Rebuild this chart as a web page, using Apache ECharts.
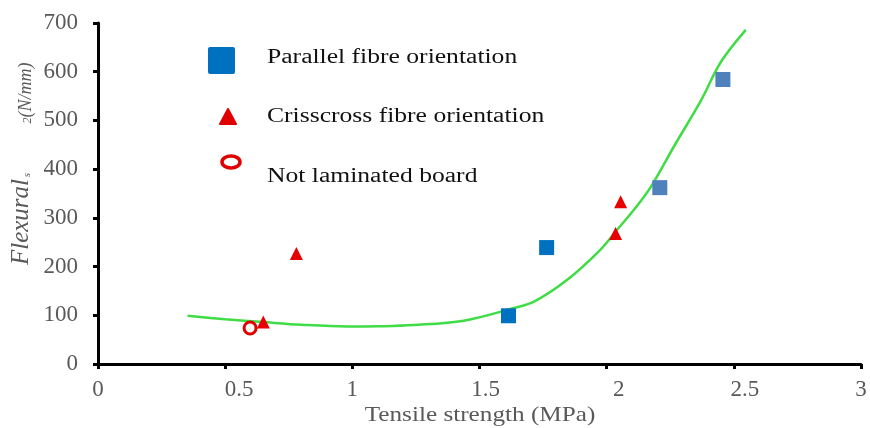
<!DOCTYPE html>
<html><head><meta charset="utf-8">
<script src="https://cdn.jsdelivr.net/npm/echarts@6/dist/echarts.min.js"></script>
<style>html,body{margin:0;padding:0;background:#fff}#c{width:870px;height:428px}</style>
</head><body><div id="c"></div>
<script>
const xTicks = [0, 0.5, 1, 1.5, 2, 2.5, 3];
const yTicks = [0, 100, 200, 300, 400, 500, 600, 700];
const parallel = [[1.614, 99], [1.764, 239], [2.209, 362], [2.457, 584]];
const parallelColors = ['#0070C0', '#0070C0', '#4F81BD', '#4F81BD'];
const crisscross = [[0.65, 86], [0.78, 227], [2.035, 268], [2.055, 333]];
const notLaminated = [[0.598, 74]];
const trendX = [0.352, 0.5, 0.651, 0.8, 0.979, 1.1, 1.241, 1.438, 1.635, 1.714, 1.845, 1.976, 2.042, 2.108, 2.173, 2.265, 2.37, 2.449, 2.547];
const trendY = [99, 92, 86, 80.5, 77, 77.5, 80, 89, 115, 128, 173, 235, 276, 317, 363, 447, 540, 620, 686];

const serif = 'Liberation Serif';
const grey = '#595959';
// horizontal nudges of x tick labels (pixels), as in the reference layout
const xLabelShift = { '0.5': 14, '1.5': 6, '2': 12, '2.5': 11 };
const xRich = {};
Object.keys(xLabelShift).forEach((k, i) => {
  xRich['s' + i] = { color: grey, fontFamily: serif, fontSize: 23, padding: [0, 0, 0, xLabelShift[k] * 2] };
});
xRich.n = { color: grey, fontFamily: serif, fontSize: 23 };

function draw() {
  const chart = echarts.init(document.getElementById('c'));
  chart.setOption({
    backgroundColor: '#fff',
    animation: false,
    grid: { left: 98, right: 9, top: 23, bottom: 64 },
    xAxis: {
      type: 'value', min: 0, max: 3, interval: 0.5,
      axisLine: { lineStyle: { color: '#000', width: 3 } },
      axisTick: { show: true, length: 5, lineStyle: { color: '#000', width: 3 } },
      axisLabel: { color: grey, fontFamily: serif, fontSize: 23, margin: 14, rich: xRich,
        formatter: v => {
          if (!xTicks.includes(v)) return '';
          const idx = Object.keys(xLabelShift).indexOf(String(v));
          return idx >= 0 ? '{s' + idx + '|' + v + '}' : '{n|' + v + '}';
        } },
      splitLine: { show: false }
    },
    yAxis: {
      type: 'value', min: 0, max: 700, interval: 100,
      axisLine: { show: true, lineStyle: { color: '#000', width: 3 } },
      axisTick: { show: true, length: 5, lineStyle: { color: '#000', width: 3 } },
      axisLabel: { color: grey, fontFamily: serif, fontSize: 23, margin: 20,
        formatter: v => yTicks.includes(v) ? String(v) : '' },
      splitLine: { show: false }
    },
    graphic: [
      { type: 'text', x: 480, y: 415, scaleX: 1.2,
        style: { text: 'Tensile strength (MPa)', fontFamily: serif, fontSize: 21, fill: grey, align: 'center', verticalAlign: 'middle' } },
      { type: 'text', x: 21, y: 222, rotation: Math.PI / 2,
        style: { text: 'Flexural', fontFamily: serif, fontStyle: 'italic', fontSize: 25, fill: grey, align: 'center', verticalAlign: 'middle' } },
      { type: 'text', x: 27, y: 175, rotation: Math.PI / 2,
        style: { text: 's', fontFamily: serif, fontStyle: 'italic', fontSize: 11, fill: grey, align: 'center', verticalAlign: 'middle' } },
      { type: 'text', x: 26, y: 93, rotation: Math.PI / 2,
        style: { text: '{b|2}{c|(N/mm)}', align: 'center', verticalAlign: 'middle',
          rich: {
            b: { fontFamily: serif, fontStyle: 'italic', fontSize: 12, fill: grey, padding: [4, 0, 0, 0] },
            c: { fontFamily: serif, fontStyle: 'italic', fontSize: 18, fill: grey }
          } } },
      { type: 'rect', shape: { x: 208, y: 47, width: 27, height: 27, r: 2 }, style: { fill: '#0070C0' } },
      { type: 'polygon', shape: { points: [[228, 109], [236, 124], [220, 124]] }, style: { fill: '#e00000', stroke: '#e00000', lineWidth: 2, lineJoin: 'round' } },
      { type: 'ellipse', shape: { cx: 231, cy: 162, rx: 9, ry: 6 }, style: { fill: 'none', stroke: '#e00000', lineWidth: 3.5 } },
      { type: 'text', x: 267, y: 58, scaleX: 1.28,
        style: { text: 'Parallel fibre orientation', fontFamily: serif, fontSize: 20, fill: '#111', verticalAlign: 'middle' } },
      { type: 'text', x: 267, y: 117, scaleX: 1.28,
        style: { text: 'Crisscross fibre orientation', fontFamily: serif, fontSize: 20, fill: '#111', verticalAlign: 'middle' } },
      { type: 'text', x: 267, y: 177, scaleX: 1.28,
        style: { text: 'Not laminated board', fontFamily: serif, fontSize: 20, fill: '#111', verticalAlign: 'middle' } }
    ],
    series: [
      { type: 'line', data: trendX.map((x, i) => [x, trendY[i]]), smooth: 0.35, showSymbol: false,
        lineStyle: { color: '#3fdc46', width: 2.5 }, z: 1 },
      { name: 'Not laminated board', type: 'scatter', data: notLaminated, symbol: 'circle', symbolSize: 12,
        itemStyle: { color: 'rgba(0,0,0,0)', borderColor: '#e00000', borderWidth: 3, opacity: 1 }, z: 3 },
      { name: 'Crisscross fibre orientation', type: 'scatter', data: crisscross, symbol: 'triangle', symbolSize: 13,
        itemStyle: { color: '#e60000', opacity: 1 }, z: 3 },
      { name: 'Parallel fibre orientation', type: 'scatter',
        data: parallel.map((p, i) => ({ value: p, itemStyle: { color: parallelColors[i], opacity: 1 } })),
        symbol: 'rect', symbolSize: 15, z: 3 }
    ]
  });
}
if (document.fonts && document.fonts.load) {
  Promise.all([
    document.fonts.load('20px "Liberation Serif"'),
    document.fonts.load('italic 20px "Liberation Serif"')
  ]).then(draw, draw);
} else { draw(); }
</script></body></html>
